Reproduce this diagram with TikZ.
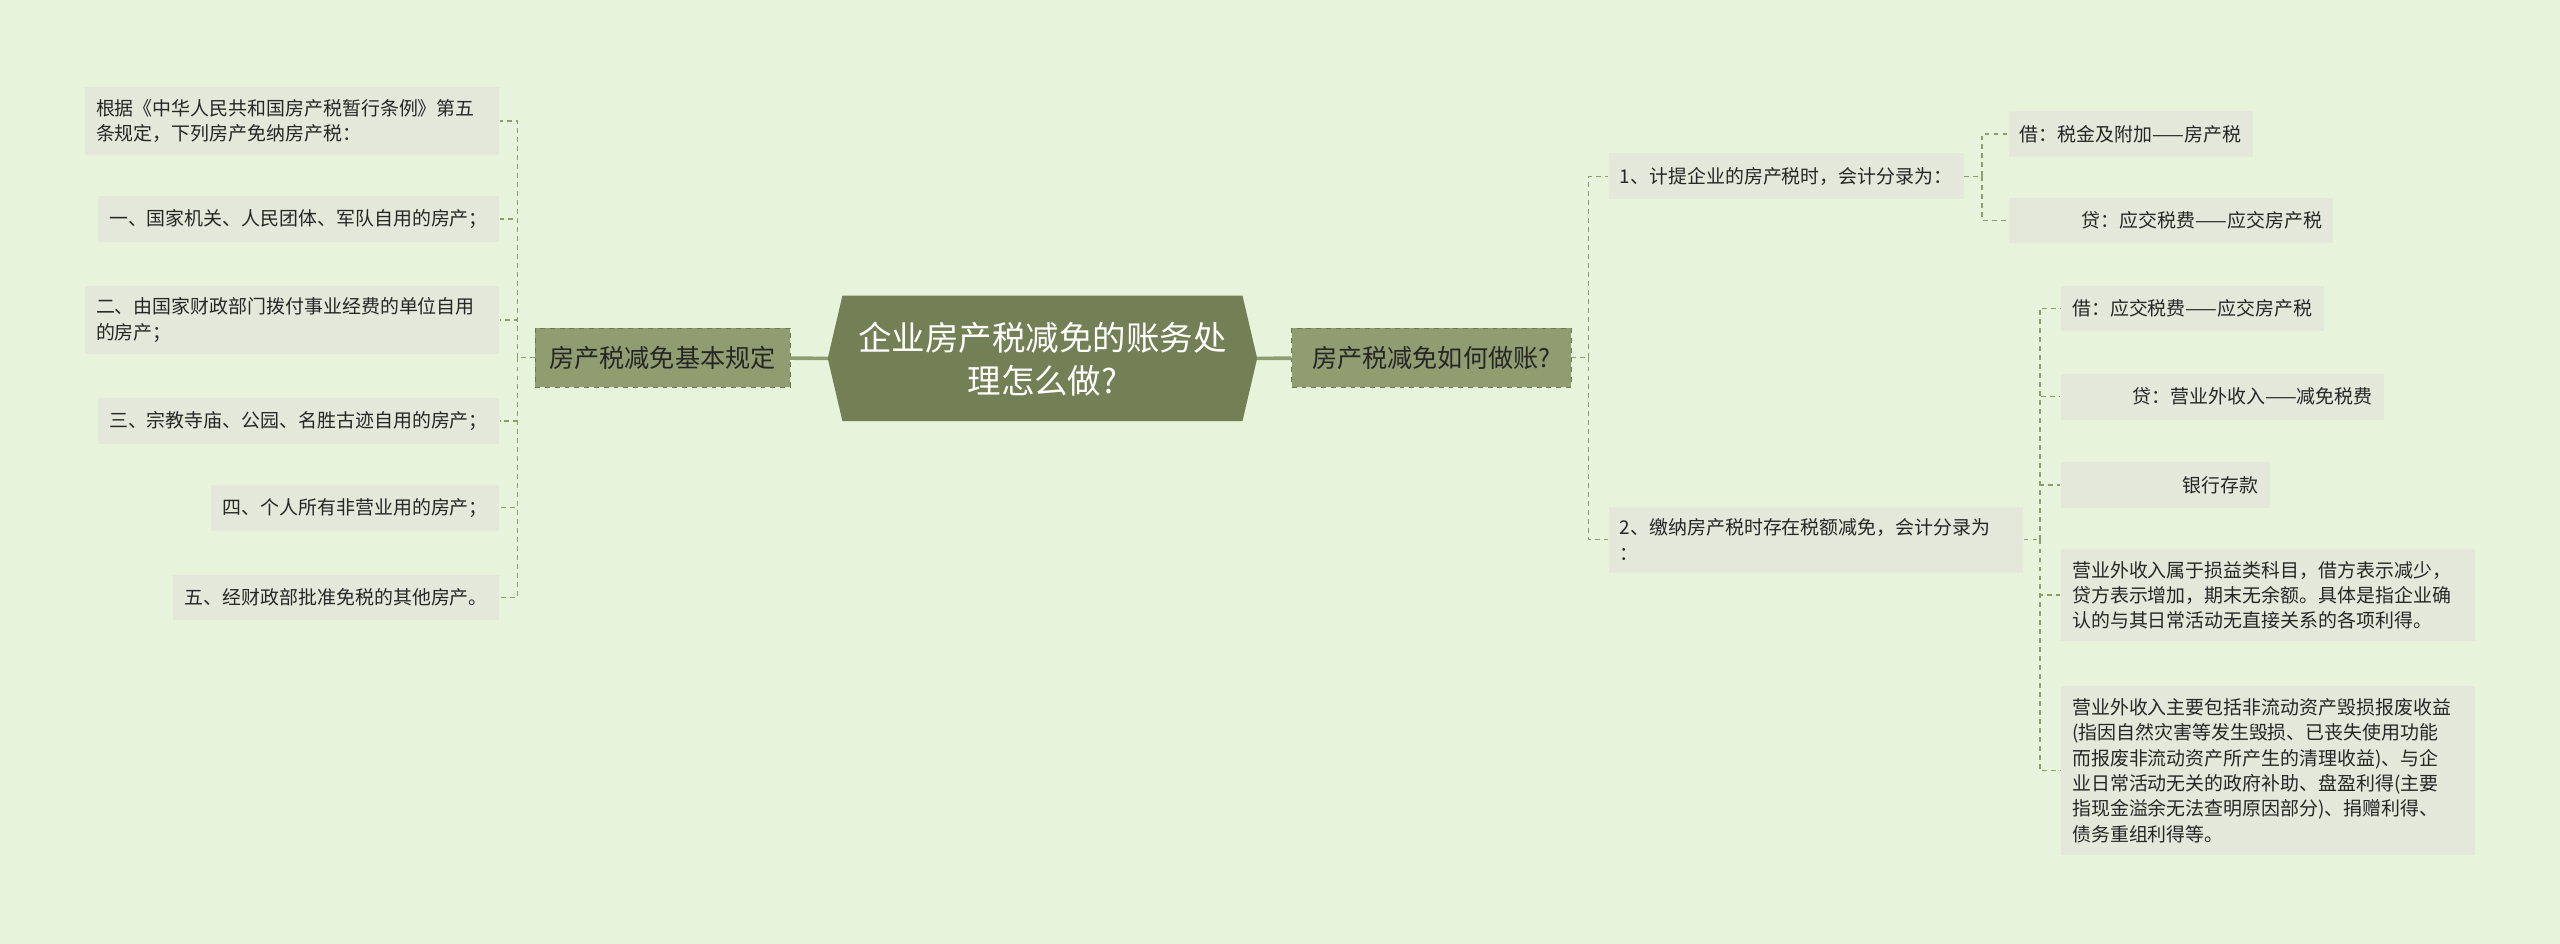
\documentclass[tikz,border=0pt]{standalone}
\usepackage{fontspec}
\setmainfont{Noto Sans CJK SC}
\definecolor{bgc}{HTML}{E7F4DB}
\definecolor{rootc}{HTML}{738055}
\definecolor{brc}{HTML}{8F9D71}
\definecolor{brline}{HTML}{6B7A4E}
\definecolor{leafc}{HTML}{E3E8DA}
\definecolor{linkc}{HTML}{8E9D70}
\definecolor{txt}{HTML}{262626}

\begin{document}
\begin{tikzpicture}[x=1pt, y=-1pt,
  leaf/.style={fill=leafc, text=txt, font=\fontsize{11.6pt}{15.5pt}\selectfont,
    inner xsep=7pt, inner ysep=7.5pt, minimum height=28pt},
  leafL/.style={leaf, anchor=east, align=left},
  leafR/.style={leaf, anchor=west, align=left},
  branch/.style={fill=brc, draw=brline, dashed, text=txt, font=\fontsize{15.4pt}{18pt}\selectfont,
    inner xsep=8pt, minimum height=36pt},
  link/.style={draw=linkc, line width=0.9pt, dash pattern=on 3pt off 2.5pt},
  trunk/.style={draw=linkc, line width=2.2pt}]
  \fill[bgc] (0,0) rectangle (1568,578);

  \coordinate (rootL) at (507,219.5);
  \coordinate (rootR) at (770,219.5);
  \fill[rootc] (516,181) -- (761,181) -- (rootR) -- (761,258) -- (516,258) -- (rootL) -- cycle;
  \node[text=white, font=\fontsize{20.5pt}{26pt}\selectfont, align=center] (root) at (638.5,220) {企业房产税减免的账务处\\理怎么做?};

  \node[branch, anchor=east, minimum width=156pt] (lbr) at (484,219) {房产税减免基本规定};
  \node[branch, anchor=west, minimum width=171pt] (rbr) at (791,219) {房产税减免如何做账?};
  \draw[trunk] (rootL) -- (lbr);
  \draw[trunk] (rootR) -- (rbr);

  \node[leafL, text width=240pt] (l1) at (306,74) {根据《中华人民共和国房产税暂行条例》第五\\条规定，下列房产免纳房产税：};
  \node[leafL] (l2) at (306,134) {一、国家机关、人民团体、军队自用的房产；};
  \node[leafL, text width=240pt] (l3) at (306,196) {二、由国家财政部门拨付事业经费的单位自用\\的房产；};
  \node[leafL] (l4) at (306,258) {三、宗教寺庙、公园、名胜古迹自用的房产；};
  \node[leafL] (l5) at (306,311) {四、个人所有非营业用的房产；};
  \node[leafL] (l6) at (306,366) {五、经财政部批准免税的其他房产。};

  \node[leafR] (r1) at (985,108) {1、计提企业的房产税时，会计分录为：};
  \node[leafR, text width=240pt] (r2) at (985,330.5) {2、缴纳房产税时存在税额减免，会计分录为\\：};

  \node[leafR] (r11) at (1230,82) {借：税金及附加——房产税};
  \node[leafR, text width=185pt, align=right] (r12) at (1230,135) {贷：应交税费——应交房产税};

  \node[leafR] (r21) at (1262,189) {借：应交税费——应交房产税};
  \node[leafR, text width=184pt, align=right] (r22) at (1262,243) {贷：营业外收入——减免税费};
  \node[leafR, text width=114pt, align=right] (r23) at (1262,297) {银行存款};
  \node[leafR, text width=240pt] (r24) at (1262,364.5) {营业外收入属于损益类科目，借方表示减少，\\贷方表示增加，期末无余额。具体是指企业确\\认的与其日常活动无直接关系的各项利得。};
  \node[leafR, text width=240pt] (r25) at (1262,472) {营业外收入主要包括非流动资产毁损报废收益\\(指因自然灾害等发生毁损、已丧失使用功能\\而报废非流动资产所产生的清理收益)、与企\\业日常活动无关的政府补助、盘盈利得(主要\\指现金溢余无法查明原因部分)、捐赠利得、\\债务重组利得等。};

  \coordinate (lj) at (317,219);
  \draw[link] (lbr) -- (lj);
  \foreach \n in {1,...,6} \draw[link] (lj) |- (l\n.east);

  \coordinate (rj) at (973,219);
  \draw[link] (rbr) -- (rj);
  \foreach \n in {1,2} \draw[link] (rj) |- (r\n.west);

  \coordinate (r1j) at ([xshift=11pt]r1.east);
  \draw[link] (r1) -- (r1j);
  \foreach \n in {1,2} \draw[link] (r1j) |- (r1\n.west);

  \coordinate (r2j) at ([xshift=10pt]r2.east);
  \draw[link] (r2) -- (r2j);
  \foreach \n in {1,...,5} \draw[link] (r2j) |- (r2\n.west);
\end{tikzpicture}
\end{document}
